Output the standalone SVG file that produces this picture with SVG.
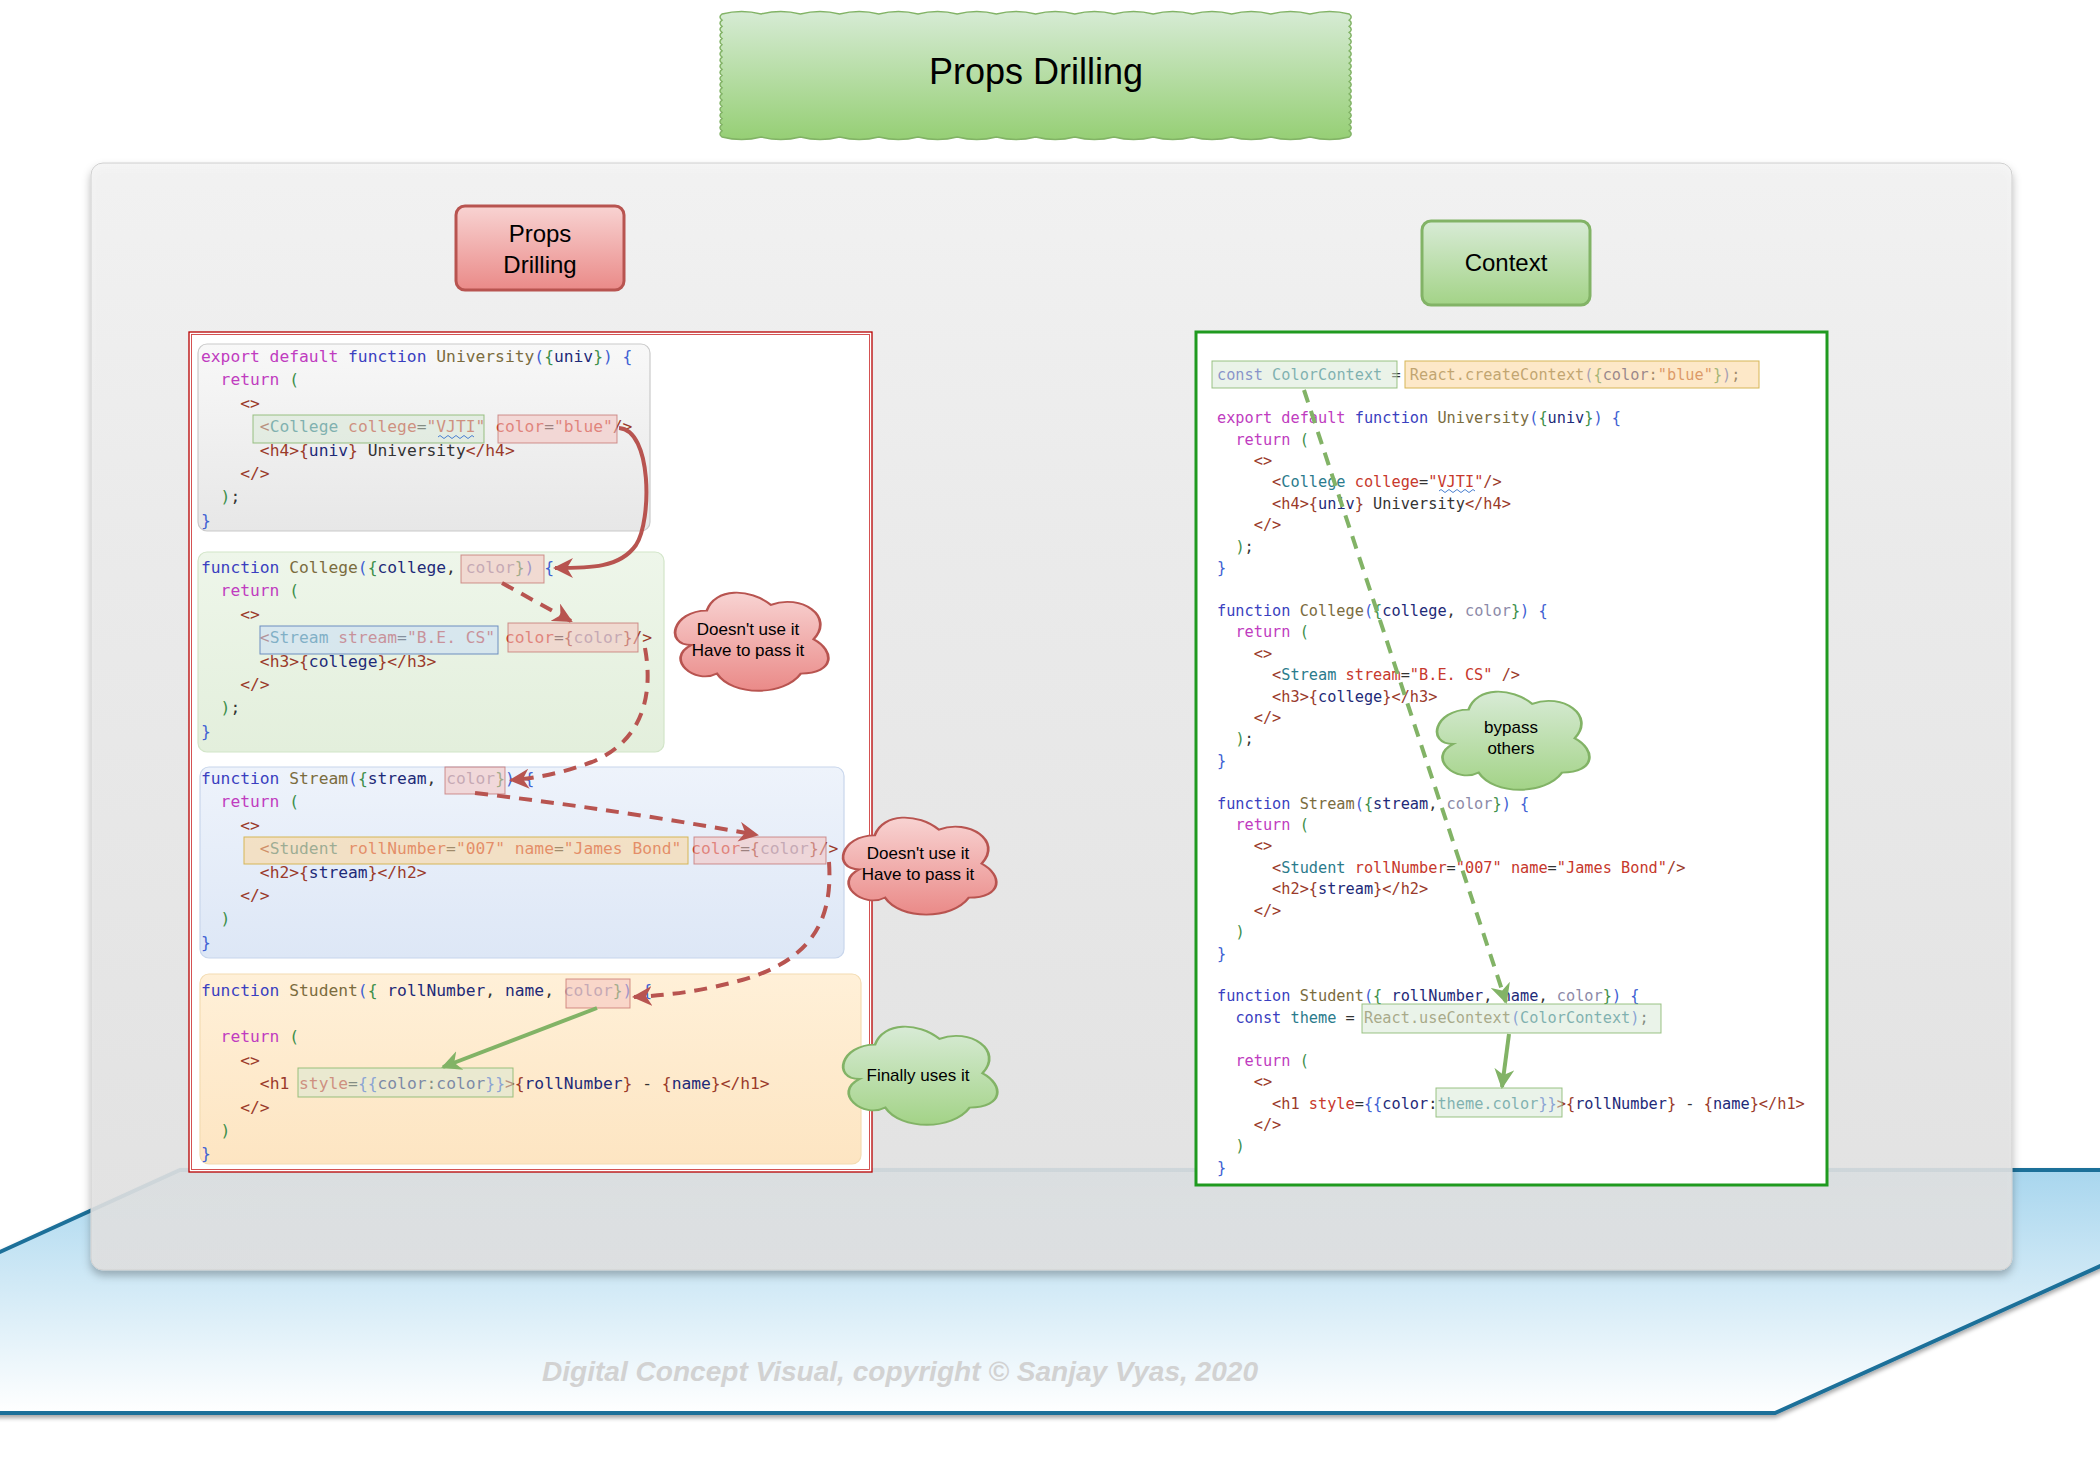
<svg xmlns="http://www.w3.org/2000/svg" width="2100" height="1468" viewBox="0 0 2100 1468">
<defs>
<style>
.cl{font-family:"DejaVu Sans Mono",monospace;font-size:16.3px}
.cr{font-family:"DejaVu Sans Mono",monospace;font-size:15.25px}
.k{fill:#c03cc0}.f{fill:#3a3fc0}.n{fill:#7b6c3e}.p{fill:#3d8f4a}.v{fill:#1e2a78}.c{fill:#8c8aa8}.t{fill:#9a3a2a}.m{fill:#2b7b8c}.a{fill:#c7382c}.o{fill:#333}.b{fill:#4061d3}.s{fill:#b5532a}
.hg{fill:#d5e8d4;fill-opacity:.5;stroke:#82b366;stroke-opacity:.8}
.hr{fill:#f4c2c0;fill-opacity:.55;stroke:#b85450;stroke-opacity:.6}
.hb{fill:#c9dcf5;fill-opacity:.55;stroke:#6c8ebf}
.ho{fill:#fbd69a;fill-opacity:.55;stroke:#d6b656}
.lbl{font-family:"Liberation Sans",Arial,sans-serif;fill:#000;text-anchor:middle}
.cloudR{fill:url(#gR);stroke:#b85450;stroke-width:1.6}
.cloudG{fill:url(#gG);stroke:#82b366;stroke-width:1.6}
.rd{fill:none;stroke:#b85450;stroke-width:4}
.gn{fill:none;stroke:#82b366;stroke-width:4}
.dash{stroke-dasharray:13 9}
</style>
<linearGradient id="gR" x1="0" y1="0" x2="0" y2="1"><stop offset="0" stop-color="#f8d3d2"/><stop offset="1" stop-color="#ea8a88"/></linearGradient>
<linearGradient id="gG" x1="0" y1="0" x2="0" y2="1"><stop offset="0" stop-color="#d8ebd6"/><stop offset="1" stop-color="#a3d387"/></linearGradient>
<linearGradient id="gTitle" x1="0" y1="0" x2="0" y2="1"><stop offset="0" stop-color="#d6ebd4"/><stop offset="1" stop-color="#96cf75"/></linearGradient>
<linearGradient id="gPanel" x1="0" y1="0" x2="0" y2="1"><stop offset="0" stop-color="#f4f4f4"/><stop offset="0.35" stop-color="#ececec"/><stop offset="1" stop-color="#e2e2e2"/></linearGradient>
<linearGradient id="gFloor" x1="0" y1="0" x2="0" y2="1"><stop offset="0" stop-color="#a8d6ee"/><stop offset="1" stop-color="#ffffff"/></linearGradient>
<linearGradient id="gUni" x1="0" y1="0" x2="0" y2="1"><stop offset="0" stop-color="#f8f8f8"/><stop offset="1" stop-color="#e7e7e7"/></linearGradient>
<linearGradient id="gCol" x1="0" y1="0" x2="0" y2="1"><stop offset="0" stop-color="#eef6ea"/><stop offset="1" stop-color="#e3efdc"/></linearGradient>
<linearGradient id="gStr" x1="0" y1="0" x2="0" y2="1"><stop offset="0" stop-color="#eef3fb"/><stop offset="1" stop-color="#dde7f6"/></linearGradient>
<linearGradient id="gStu" x1="0" y1="0" x2="0" y2="1"><stop offset="0" stop-color="#fff0d8"/><stop offset="1" stop-color="#fde5c2"/></linearGradient>
<filter id="sh" x="-5%" y="-5%" width="110%" height="115%"><feDropShadow dx="0" dy="5" stdDeviation="4" flood-color="#000" flood-opacity="0.3"/></filter>
<filter id="sh2" x="-5%" y="-5%" width="110%" height="120%"><feDropShadow dx="0" dy="3" stdDeviation="2" flood-color="#000" flood-opacity="0.35"/></filter>
<path id="cloud" d="M25 25 C5 25 0 55 16 55 C0 67 18 90 31 80 C40 100 70 100 80 80 C100 80 100 60 87.5 50 C100 30 80 10 62.5 20 C50 5 30 5 25 25 Z"/>
<marker id="arR" markerUnits="userSpaceOnUse" markerWidth="20" markerHeight="20" viewBox="0 0 10 10" refX="9" refY="5" orient="auto"><path d="M0 0 L10 5 L0 10 L3 5 Z" fill="#b85450"/></marker>
<marker id="arG" markerUnits="userSpaceOnUse" markerWidth="20" markerHeight="20" viewBox="0 0 10 10" refX="9" refY="5" orient="auto"><path d="M0 0 L10 5 L0 10 L3 5 Z" fill="#82b366"/></marker>
</defs>

<g id="floor" filter="url(#sh2)">
<polygon points="180,1170 2313,1170 1775,1413 -354,1413" fill="url(#gFloor)" stroke="#1d6f99" stroke-width="4"/>
</g>

<g id="panel">
<rect x="91" y="163" width="1921" height="1107" rx="12" fill="url(#gPanel)" fill-opacity="0.88" stroke="#d0d0d0" filter="url(#sh)"/>
</g>

<g id="title">
<path d="M722 14 q19.6 -5 39.2 0 q19.6 -5 39.2 0 q19.6 -5 39.2 0 q19.6 -5 39.2 0 q19.6 -5 39.2 0 q19.6 -5 39.2 0 q19.6 -5 39.2 0 q19.6 -5 39.2 0 q19.6 -5 39.2 0 q19.6 -5 39.2 0 q19.6 -5 39.2 0 q19.6 -5 39.2 0 q19.6 -5 39.2 0 q19.6 -5 39.2 0 q19.6 -5 39.2 0 q19.6 -5 39.2 0 q4 3.075 0 6.15 q4 3.075 0 6.15 q4 3.075 0 6.15 q4 3.075 0 6.15 q4 3.075 0 6.15 q4 3.075 0 6.15 q4 3.075 0 6.15 q4 3.075 0 6.15 q4 3.075 0 6.15 q4 3.075 0 6.15 q4 3.075 0 6.15 q4 3.075 0 6.15 q4 3.075 0 6.15 q4 3.075 0 6.15 q4 3.075 0 6.15 q4 3.075 0 6.15 q4 3.075 0 6.15 q4 3.075 0 6.15 q4 3.075 0 6.15 q4 3.075 0 6.15 q-19.6 5 -39.2 0 q-19.6 5 -39.2 0 q-19.6 5 -39.2 0 q-19.6 5 -39.2 0 q-19.6 5 -39.2 0 q-19.6 5 -39.2 0 q-19.6 5 -39.2 0 q-19.6 5 -39.2 0 q-19.6 5 -39.2 0 q-19.6 5 -39.2 0 q-19.6 5 -39.2 0 q-19.6 5 -39.2 0 q-19.6 5 -39.2 0 q-19.6 5 -39.2 0 q-19.6 5 -39.2 0 q-19.6 5 -39.2 0 q-4 -3.075 0 -6.15 q-4 -3.075 0 -6.15 q-4 -3.075 0 -6.15 q-4 -3.075 0 -6.15 q-4 -3.075 0 -6.15 q-4 -3.075 0 -6.15 q-4 -3.075 0 -6.15 q-4 -3.075 0 -6.15 q-4 -3.075 0 -6.15 q-4 -3.075 0 -6.15 q-4 -3.075 0 -6.15 q-4 -3.075 0 -6.15 q-4 -3.075 0 -6.15 q-4 -3.075 0 -6.15 q-4 -3.075 0 -6.15 q-4 -3.075 0 -6.15 q-4 -3.075 0 -6.15 q-4 -3.075 0 -6.15 q-4 -3.075 0 -6.15 q-4 -3.075 0 -6.15 Z" fill="url(#gTitle)" stroke="#82b366" stroke-width="1.5"/>
<text class="lbl" x="1036" y="84" font-size="36">Props Drilling</text>
</g>

<g id="label-props">
<rect x="456" y="206" width="168" height="84" rx="9" fill="url(#gR)" stroke="#b85450" stroke-width="3"/>
<text class="lbl" x="540" y="242" font-size="24">Props</text>
<text class="lbl" x="540" y="273" font-size="24">Drilling</text>
</g>

<g id="label-context">
<rect x="1422" y="221" width="168" height="84" rx="9" fill="url(#gG)" stroke="#82b366" stroke-width="3"/>
<text class="lbl" x="1506" y="271" font-size="24">Context</text>
</g>

<g id="left-box">
<rect x="189" y="332" width="683" height="840" fill="#fff" stroke="#b80000" stroke-width="1.3"/>
<rect x="191.5" y="334.5" width="678" height="835" fill="none" stroke="#d04040" stroke-width="0.9"/>
</g>

<g id="left-university">
<rect x="198" y="344" width="452" height="187" rx="9" fill="url(#gUni)" stroke="#cacaca" stroke-width="1.2"/>
<text class="cl" x="201" y="362" xml:space="preserve"><tspan class="k">export default</tspan> <tspan class="f">function</tspan> <tspan class="n">University</tspan><tspan class="b">(</tspan><tspan class="p">{</tspan><tspan class="v">univ</tspan><tspan class="p">}</tspan><tspan class="b">) {</tspan></text>
<text class="cl" x="201" y="385.4" xml:space="preserve">  <tspan class="k">return</tspan> <tspan class="p">(</tspan></text>
<text class="cl" x="201" y="408.8" xml:space="preserve">    <tspan class="t">&lt;&gt;</tspan></text>
<text class="cl" x="201" y="432.2" xml:space="preserve">      <tspan class="t">&lt;</tspan><tspan class="m">College</tspan> <tspan class="a">college</tspan><tspan class="o">=</tspan><tspan class="a">"VJTI"</tspan> <tspan class="a">color</tspan><tspan class="o">=</tspan><tspan class="a">"blue"</tspan><tspan class="t">/&gt;</tspan></text>
<text class="cl" x="201" y="455.6" xml:space="preserve">      <tspan class="t">&lt;h4&gt;{</tspan><tspan class="v">univ</tspan><tspan class="t">}</tspan><tspan class="o"> University</tspan><tspan class="t">&lt;/h4&gt;</tspan></text>
<text class="cl" x="201" y="479" xml:space="preserve">    <tspan class="t">&lt;/&gt;</tspan></text>
<text class="cl" x="201" y="502.4" xml:space="preserve">  <tspan class="p">)</tspan><tspan class="o">;</tspan></text>
<text class="cl" x="201" y="525.8" xml:space="preserve"><tspan class="b">}</tspan></text>
<rect class="hg" x="253" y="415" width="231" height="28"/>
<rect class="hr" x="498" y="415" width="119" height="28"/>
<path d="M438 437 q2 -3 4 0 q2 3 4 0 q2 -3 4 0 q2 3 4 0 q2 -3 4 0 q2 3 4 0 q2 -3 4 0 q2 3 4 0 q2 -3 4 0" fill="none" stroke="#4a7fd0" stroke-width="1"/>
</g>

<g id="left-college">
<rect x="198" y="552" width="466" height="200" rx="9" fill="url(#gCol)" stroke="#d2e5c8" stroke-width="1.2"/>
<text class="cl" x="201" y="573" xml:space="preserve"><tspan class="f">function</tspan> <tspan class="n">College</tspan><tspan class="b">(</tspan><tspan class="p">{</tspan><tspan class="v">college</tspan><tspan class="o">, </tspan><tspan class="c">color</tspan><tspan class="p">}</tspan><tspan class="b">) {</tspan></text>
<text class="cl" x="201" y="596.4" xml:space="preserve">  <tspan class="k">return</tspan> <tspan class="p">(</tspan></text>
<text class="cl" x="201" y="619.8" xml:space="preserve">    <tspan class="t">&lt;&gt;</tspan></text>
<text class="cl" x="201" y="643.2" xml:space="preserve">      <tspan class="t">&lt;</tspan><tspan class="m">Stream</tspan> <tspan class="a">stream</tspan><tspan class="o">=</tspan><tspan class="a">"B.E. CS"</tspan> <tspan class="a">color</tspan><tspan class="o">=</tspan><tspan class="t">{</tspan><tspan class="c">color</tspan><tspan class="t">}/&gt;</tspan></text>
<text class="cl" x="201" y="666.6" xml:space="preserve">      <tspan class="t">&lt;h3&gt;{</tspan><tspan class="v">college</tspan><tspan class="t">}&lt;/h3&gt;</tspan></text>
<text class="cl" x="201" y="690" xml:space="preserve">    <tspan class="t">&lt;/&gt;</tspan></text>
<text class="cl" x="201" y="713.4" xml:space="preserve">  <tspan class="p">)</tspan><tspan class="o">;</tspan></text>
<text class="cl" x="201" y="736.8" xml:space="preserve"><tspan class="b">}</tspan></text>
<rect class="hr" x="461" y="555" width="83" height="28"/>
<rect class="hb" x="260" y="626" width="238" height="28"/>
<rect class="hr" x="508" y="623" width="130" height="29"/>
</g>

<g id="left-stream">
<rect x="200" y="767" width="644" height="191" rx="9" fill="url(#gStr)" stroke="#c8d6ec" stroke-width="1.2"/>
<text class="cl" x="201" y="784" xml:space="preserve"><tspan class="f">function</tspan> <tspan class="n">Stream</tspan><tspan class="b">(</tspan><tspan class="p">{</tspan><tspan class="v">stream</tspan><tspan class="o">, </tspan><tspan class="c">color</tspan><tspan class="p">}</tspan><tspan class="b">) {</tspan></text>
<text class="cl" x="201" y="807.4" xml:space="preserve">  <tspan class="k">return</tspan> <tspan class="p">(</tspan></text>
<text class="cl" x="201" y="830.8" xml:space="preserve">    <tspan class="t">&lt;&gt;</tspan></text>
<text class="cl" x="201" y="854.2" xml:space="preserve">      <tspan class="t">&lt;</tspan><tspan class="m">Student</tspan> <tspan class="a">rollNumber</tspan><tspan class="o">=</tspan><tspan class="a">"007"</tspan> <tspan class="a">name</tspan><tspan class="o">=</tspan><tspan class="a">"James Bond"</tspan> <tspan class="a">color</tspan><tspan class="o">=</tspan><tspan class="t">{</tspan><tspan class="c">color</tspan><tspan class="t">}/&gt;</tspan></text>
<text class="cl" x="201" y="877.6" xml:space="preserve">      <tspan class="t">&lt;h2&gt;{</tspan><tspan class="v">stream</tspan><tspan class="t">}&lt;/h2&gt;</tspan></text>
<text class="cl" x="201" y="901" xml:space="preserve">    <tspan class="t">&lt;/&gt;</tspan></text>
<text class="cl" x="201" y="924.4" xml:space="preserve">  <tspan class="p">)</tspan></text>
<text class="cl" x="201" y="947.8" xml:space="preserve"><tspan class="b">}</tspan></text>
<rect class="hr" x="445" y="767" width="60" height="27"/>
<rect class="ho" x="244" y="837" width="444" height="27"/>
<rect class="hr" x="694" y="837" width="132" height="27"/>
</g>

<g id="left-student">
<rect x="200" y="974" width="661" height="190" rx="9" fill="url(#gStu)" stroke="#f3dcb2" stroke-width="1.2"/>
<text class="cl" x="201" y="995.5" xml:space="preserve"><tspan class="f">function</tspan> <tspan class="n">Student</tspan><tspan class="b">(</tspan><tspan class="p">{</tspan> <tspan class="v">rollNumber</tspan><tspan class="o">, </tspan><tspan class="v">name</tspan><tspan class="o">, </tspan><tspan class="c">color</tspan><tspan class="p">}</tspan><tspan class="b">) {</tspan></text>
<text class="cl" x="201" y="1042.3" xml:space="preserve">  <tspan class="k">return</tspan> <tspan class="p">(</tspan></text>
<text class="cl" x="201" y="1065.7" xml:space="preserve">    <tspan class="t">&lt;&gt;</tspan></text>
<text class="cl" x="201" y="1089.1" xml:space="preserve">      <tspan class="t">&lt;h1</tspan> <tspan class="a">style</tspan><tspan class="o">=</tspan><tspan class="b">{{</tspan><tspan class="v">color</tspan><tspan class="o">:</tspan><tspan class="v">color</tspan><tspan class="b">}}</tspan><tspan class="t">&gt;{</tspan><tspan class="v">rollNumber</tspan><tspan class="t">}</tspan><tspan class="o"> - </tspan><tspan class="t">{</tspan><tspan class="v">name</tspan><tspan class="t">}&lt;/h1&gt;</tspan></text>
<text class="cl" x="201" y="1112.5" xml:space="preserve">    <tspan class="t">&lt;/&gt;</tspan></text>
<text class="cl" x="201" y="1135.9" xml:space="preserve">  <tspan class="p">)</tspan></text>
<text class="cl" x="201" y="1159.3" xml:space="preserve"><tspan class="b">}</tspan></text>
<rect class="hr" x="566" y="979" width="64" height="29"/>
<rect class="hg" x="298" y="1068" width="215" height="29"/>
</g>

<g id="right-box">
<rect x="1196" y="332" width="631" height="853" fill="#fff" stroke="#1f9a1f" stroke-width="3"/>
</g>

<g id="right-code">
<text class="cr" x="1217" y="380.2" xml:space="preserve"><tspan class="f">const</tspan> <tspan class="m">ColorContext</tspan> <tspan class="o">=</tspan> <tspan class="n">React.createContext</tspan><tspan class="b">(</tspan><tspan class="p">{</tspan><tspan class="v">color</tspan><tspan class="o">:</tspan><tspan class="s">"blue"</tspan><tspan class="p">}</tspan><tspan class="b">)</tspan><tspan class="o">;</tspan></text>
<text class="cr" x="1217" y="423" xml:space="preserve"><tspan class="k">export default</tspan> <tspan class="f">function</tspan> <tspan class="n">University</tspan><tspan class="b">(</tspan><tspan class="p">{</tspan><tspan class="v">univ</tspan><tspan class="p">}</tspan><tspan class="b">) {</tspan></text>
<text class="cr" x="1217" y="444.5" xml:space="preserve">  <tspan class="k">return</tspan> <tspan class="p">(</tspan></text>
<text class="cr" x="1217" y="465.9" xml:space="preserve">    <tspan class="t">&lt;&gt;</tspan></text>
<text class="cr" x="1217" y="487.3" xml:space="preserve">      <tspan class="t">&lt;</tspan><tspan class="m">College</tspan> <tspan class="a">college</tspan><tspan class="o">=</tspan><tspan class="a">"VJTI"</tspan><tspan class="t">/&gt;</tspan></text>
<text class="cr" x="1217" y="508.7" xml:space="preserve">      <tspan class="t">&lt;h4&gt;{</tspan><tspan class="v">univ</tspan><tspan class="t">}</tspan><tspan class="o"> University</tspan><tspan class="t">&lt;/h4&gt;</tspan></text>
<text class="cr" x="1217" y="530.1" xml:space="preserve">    <tspan class="t">&lt;/&gt;</tspan></text>
<text class="cr" x="1217" y="551.6" xml:space="preserve">  <tspan class="p">)</tspan><tspan class="o">;</tspan></text>
<text class="cr" x="1217" y="573" xml:space="preserve"><tspan class="b">}</tspan></text>
<text class="cr" x="1217" y="615.8" xml:space="preserve"><tspan class="f">function</tspan> <tspan class="n">College</tspan><tspan class="b">(</tspan><tspan class="p">{</tspan><tspan class="v">college</tspan><tspan class="o">, </tspan><tspan class="c">color</tspan><tspan class="p">}</tspan><tspan class="b">) {</tspan></text>
<text class="cr" x="1217" y="637.2" xml:space="preserve">  <tspan class="k">return</tspan> <tspan class="p">(</tspan></text>
<text class="cr" x="1217" y="658.7" xml:space="preserve">    <tspan class="t">&lt;&gt;</tspan></text>
<text class="cr" x="1217" y="680.1" xml:space="preserve">      <tspan class="t">&lt;</tspan><tspan class="m">Stream</tspan> <tspan class="a">stream</tspan><tspan class="o">=</tspan><tspan class="a">"B.E. CS"</tspan> <tspan class="t">/&gt;</tspan></text>
<text class="cr" x="1217" y="701.5" xml:space="preserve">      <tspan class="t">&lt;h3&gt;{</tspan><tspan class="v">college</tspan><tspan class="t">}&lt;/h3&gt;</tspan></text>
<text class="cr" x="1217" y="722.9" xml:space="preserve">    <tspan class="t">&lt;/&gt;</tspan></text>
<text class="cr" x="1217" y="744.3" xml:space="preserve">  <tspan class="p">)</tspan><tspan class="o">;</tspan></text>
<text class="cr" x="1217" y="765.8" xml:space="preserve"><tspan class="b">}</tspan></text>
<text class="cr" x="1217" y="808.6" xml:space="preserve"><tspan class="f">function</tspan> <tspan class="n">Stream</tspan><tspan class="b">(</tspan><tspan class="p">{</tspan><tspan class="v">stream</tspan><tspan class="o">, </tspan><tspan class="c">color</tspan><tspan class="p">}</tspan><tspan class="b">) {</tspan></text>
<text class="cr" x="1217" y="830" xml:space="preserve">  <tspan class="k">return</tspan> <tspan class="p">(</tspan></text>
<text class="cr" x="1217" y="851.4" xml:space="preserve">    <tspan class="t">&lt;&gt;</tspan></text>
<text class="cr" x="1217" y="872.9" xml:space="preserve">      <tspan class="t">&lt;</tspan><tspan class="m">Student</tspan> <tspan class="a">rollNumber</tspan><tspan class="o">=</tspan><tspan class="a">"007"</tspan> <tspan class="a">name</tspan><tspan class="o">=</tspan><tspan class="a">"James Bond"</tspan><tspan class="t">/&gt;</tspan></text>
<text class="cr" x="1217" y="894.3" xml:space="preserve">      <tspan class="t">&lt;h2&gt;{</tspan><tspan class="v">stream</tspan><tspan class="t">}&lt;/h2&gt;</tspan></text>
<text class="cr" x="1217" y="915.7" xml:space="preserve">    <tspan class="t">&lt;/&gt;</tspan></text>
<text class="cr" x="1217" y="937.1" xml:space="preserve">  <tspan class="p">)</tspan></text>
<text class="cr" x="1217" y="958.5" xml:space="preserve"><tspan class="b">}</tspan></text>
<text class="cr" x="1217" y="1001.4" xml:space="preserve"><tspan class="f">function</tspan> <tspan class="n">Student</tspan><tspan class="b">(</tspan><tspan class="p">{</tspan> <tspan class="v">rollNumber</tspan><tspan class="o">, </tspan><tspan class="v">name</tspan><tspan class="o">, </tspan><tspan class="c">color</tspan><tspan class="p">}</tspan><tspan class="b">) {</tspan></text>
<text class="cr" x="1217" y="1022.8" xml:space="preserve">  <tspan class="f">const</tspan> <tspan class="m">theme</tspan> <tspan class="o">=</tspan> <tspan class="n">React.useContext</tspan><tspan class="b">(</tspan><tspan class="m">ColorContext</tspan><tspan class="b">)</tspan><tspan class="o">;</tspan></text>
<text class="cr" x="1217" y="1065.6" xml:space="preserve">  <tspan class="k">return</tspan> <tspan class="p">(</tspan></text>
<text class="cr" x="1217" y="1087.1" xml:space="preserve">    <tspan class="t">&lt;&gt;</tspan></text>
<text class="cr" x="1217" y="1108.5" xml:space="preserve">      <tspan class="t">&lt;h1</tspan> <tspan class="a">style</tspan><tspan class="o">=</tspan><tspan class="b">{{</tspan><tspan class="v">color</tspan><tspan class="o">:</tspan><tspan class="m">theme.color</tspan><tspan class="b">}}</tspan><tspan class="t">&gt;{</tspan><tspan class="v">rollNumber</tspan><tspan class="t">}</tspan><tspan class="o"> - </tspan><tspan class="t">{</tspan><tspan class="v">name</tspan><tspan class="t">}&lt;/h1&gt;</tspan></text>
<text class="cr" x="1217" y="1129.9" xml:space="preserve">    <tspan class="t">&lt;/&gt;</tspan></text>
<text class="cr" x="1217" y="1151.3" xml:space="preserve">  <tspan class="p">)</tspan></text>
<text class="cr" x="1217" y="1172.7" xml:space="preserve"><tspan class="b">}</tspan></text>
<rect class="hg" x="1212" y="361" width="185" height="27"/>
<rect class="ho" x="1405" y="361" width="354" height="27"/>
<rect class="hg" x="1362" y="1004" width="299" height="29"/>
<rect class="hg" x="1436" y="1088" width="126" height="29"/>
<path d="M1439 491 q2 -3 4 0 q2 3 4 0 q2 -3 4 0 q2 3 4 0 q2 -3 4 0 q2 3 4 0 q2 -3 4 0 q2 3 4 0 q2 -3 4 0" fill="none" stroke="#4a7fd0" stroke-width="1"/>
</g>

<g id="connectors">
<path class="rd" d="M619 428 C652 430 652 520 636 545 C620 568 590 568 555 568" marker-end="url(#arR)"/>
<path class="rd dash" d="M502 583 L571 621" marker-end="url(#arR)"/>
<path class="rd dash" d="M645 648 C653 692 645 740 592 762 C562 773 538 778 511 780" marker-end="url(#arR)"/>
<path class="rd dash" d="M475 793 Q620 810 757 835" marker-end="url(#arR)"/>
<path class="rd dash" d="M829 862 C833 920 812 960 742 980 C702 991 672 995 634 997" marker-end="url(#arR)"/>
<path class="gn" d="M597 1008 L443 1067" marker-end="url(#arG)"/>
<path class="gn dash" d="M1304 390 L1506 1002" stroke-dasharray="16 11" marker-end="url(#arG)"/>
<path class="gn" d="M1509 1034 L1502 1087" marker-end="url(#arG)"/>
</g>

<g id="cloud-doesnt-1">
<use href="#cloud" class="cloudR" transform="translate(664 582) scale(1.71 1.145)" vector-effect="non-scaling-stroke"/>
<text class="lbl" x="748" y="635" font-size="17">Doesn't use it</text>
<text class="lbl" x="748" y="656" font-size="17">Have to pass it</text>
</g>
<g id="cloud-doesnt-2">
<use href="#cloud" class="cloudR" transform="translate(832 807) scale(1.71 1.133)" vector-effect="non-scaling-stroke"/>
<text class="lbl" x="918" y="859" font-size="17">Doesn't use it</text>
<text class="lbl" x="918" y="880" font-size="17">Have to pass it</text>
</g>
<g id="cloud-finally">
<use href="#cloud" class="cloudG" transform="translate(832 1016) scale(1.72 1.145)" vector-effect="non-scaling-stroke"/>
<text class="lbl" x="918" y="1081" font-size="17">Finally uses it</text>
</g>
<g id="cloud-bypass">
<use href="#cloud" class="cloudG" transform="translate(1426 681) scale(1.70 1.145)" vector-effect="non-scaling-stroke"/>
<text class="lbl" x="1511" y="733" font-size="17">bypass</text>
<text class="lbl" x="1511" y="754" font-size="17">others</text>
</g>

<g id="watermark">
<text x="900" y="1381" text-anchor="middle" font-family="'Liberation Sans',Arial,sans-serif" font-weight="bold" font-style="italic" font-size="27" fill="#d2d2d2" textLength="716" lengthAdjust="spacingAndGlyphs">Digital Concept Visual, copyright © Sanjay Vyas, 2020</text>
</g>
</svg>
